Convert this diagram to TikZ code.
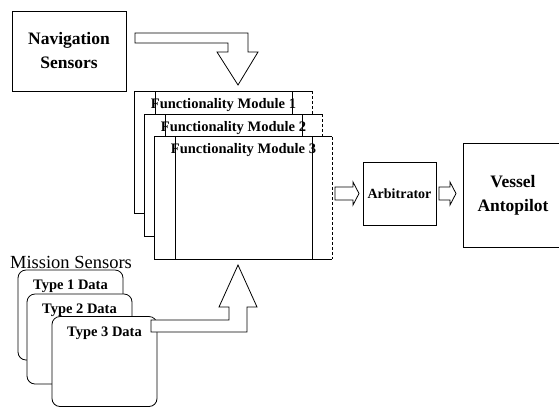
\documentclass[tikz,border=0pt]{standalone}
\usepackage{fontspec}
\setmainfont{Liberation Serif}
\usetikzlibrary{calc}
\begin{document}
\begin{tikzpicture}[x=1pt,y=-1pt,
  box/.style={draw, line width=0.8pt, fill=white, inner sep=0pt},
  modfill/.style={fill=white, inner sep=0pt, minimum width=177pt, minimum height=122pt},
  edge/.style={line width=0.8pt},
  sideedge/.style={line width=0.8pt, densely dashed},
  innerline/.style={line width=1.3pt},
  card/.style={box, rounded corners=8pt, minimum width=105pt, minimum height=90pt},
  hollow/.style={draw, line width=0.8pt, fill=white, line join=miter},
  bigtxt/.style={font=\fontsize{17.5}{24}\selectfont\bfseries, align=center},
  modtxt/.style={font=\fontsize{14.5}{17}\selectfont\bfseries, inner sep=0pt},
  cardtxt/.style={font=\fontsize{14.5}{17}\selectfont\bfseries, inner sep=0pt},
]
\useasboundingbox (0,0) rectangle (559,408);

% sensors feeding the modules
\node[box, minimum width=114pt, minimum height=80pt, bigtxt] (nav) at (69,51) {Navigation\\Sensors};

% hollow block arrow from the navigation sensors down to the modules
\coordinate (navtip) at (238,85);
\path[hollow] (135,33) -- (248,33) -- (248,52) -- (258,52) -- (navtip)
  -- (217,52) -- (228,52) -- (228,43) -- (135,43) -- cycle;

% stacked functionality modules
\foreach \n/\cx/\cy in {1/223.5/152.5, 2/233.5/175.5, 3/243.5/198}{
  \node[modfill] (m\n) at (\cx,\cy) {};
  \draw[edge] (m\n.north east) -- (m\n.north west) -- (m\n.south west) -- (m\n.south east);
  \draw[sideedge] (m\n.north east) -- (m\n.south east);
  \draw[innerline] ([xshift=21pt]m\n.north west) -- ([xshift=21pt]m\n.south west);
  \draw[innerline] ([xshift=-20pt]m\n.north east) -- ([xshift=-20pt]m\n.south east);
  \node[modtxt] (t\n) at ([yshift=-13.5pt]m\n.north) {Functionality Module \n};
}

% arbitrator and autopilot
\node[box, minimum width=73pt, minimum height=63pt,
      font=\fontsize{14}{17}\selectfont\bfseries] (arb) at (399.5,193.5) {Arbitrator};
\node[box, minimum width=100pt, minimum height=104pt, bigtxt] (ves) at (513,195) {Vessel\\Antopilot};

\path[hollow] (335,187) -- (353,187) -- (353,182) -- (359,193.5) -- (353,205)
  -- (353,200) -- (335,200) -- cycle;
\path[hollow] (439,187) -- (450,187) -- (450,182) -- (456,193.5) -- (450,205)
  -- (450,200) -- (439,200) -- cycle;

% mission sensor data cards
\node[font=\fontsize{18.5}{20}\selectfont, inner sep=0pt] (ms) at (71,262) {Mission Sensors};
\foreach \n/\cx/\cy in {1/70.5/315, 2/79.5/339, 3/104.5/361.5}{
  \node[card] (c\n) at (\cx,\cy) {};
  \node[cardtxt] (ct\n) at ([yshift=-17pt]c\n.north) {Type \n\ Data};
}

% hollow block arrow from the mission data up to the modules
\coordinate (mistip) at (238,265);
\path[hollow] (151,320) -- (229,320) -- (229,307) -- (219,307) -- (mistip)
  -- (257,307) -- (247,307) -- (247,332) -- (151,332) -- cycle;
\end{tikzpicture}
\end{document}
